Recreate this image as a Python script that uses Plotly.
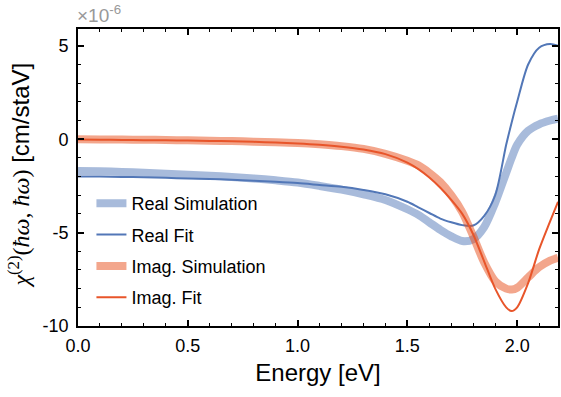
import plotly.graph_objects as go

# Photon energy grid (eV)
energy = [0.0, 0.1, 0.2, 0.3, 0.4, 0.5, 0.6, 0.7, 0.8, 0.9, 1.0, 1.1, 1.2, 1.3,
          1.4, 1.5, 1.55, 1.6, 1.65, 1.7, 1.75, 1.8, 1.85, 1.9, 1.95, 1.975, 2.0,
          2.05, 2.1, 2.15, 2.186]

# chi^(2) in units of 1e-6 cm/staV
real_sim = [-1.7, -1.72, -1.75, -1.8, -1.85, -1.9, -1.95, -2.02, -2.1, -2.2,
            -2.32, -2.5, -2.7, -2.95, -3.25, -3.75, -4.05, -4.45, -4.85, -5.2,
            -5.45, -5.35, -4.7, -3.4, -1.8, -1.0, -0.3, 0.45, 0.8, 1.0, 1.1]
real_fit = [-2.0, -2.0, -2.02, -2.04, -2.07, -2.1, -2.13, -2.17, -2.22, -2.28,
            -2.35, -2.45, -2.55, -2.72, -2.95, -3.35, -3.65, -3.95, -4.25, -4.45,
            -4.6, -4.62, -4.1, -3.0, -0.3, 0.9, 2.0, 4.0, 4.9, 5.1, 5.0]
imag_sim = [0.0, -0.01, -0.02, -0.03, -0.04, -0.06, -0.08, -0.1, -0.13, -0.16,
            -0.2, -0.27, -0.37, -0.52, -0.78, -1.15, -1.4, -1.8, -2.3, -3.0,
            -3.9, -5.2, -6.6, -7.6, -8.0, -8.05, -7.95, -7.4, -6.85, -6.5, -6.35]
imag_fit = [-0.02, -0.03, -0.04, -0.05, -0.06, -0.07, -0.09, -0.11, -0.14, -0.18,
            -0.23, -0.3, -0.4, -0.55, -0.8, -1.25, -1.6, -2.05, -2.6, -3.25,
            -4.0, -5.1, -6.55, -8.0, -9.0, -9.2, -9.0, -7.7, -5.9, -4.4, -3.35]

x_tickvals = [0.0, 0.5, 1.0, 1.5, 2.0]
x_ticktext = ["0.0", "0.5", "1.0", "1.5", "2.0"]
y_tickvals = [5, 0, -5, -10]
y_ticktext = ["5", "0", "-5", "-10"]

BLUE = "rgb(82,119,183)"
BLUE_SOFT = "rgba(82,119,183,0.5)"
ORANGE = "rgb(232,85,42)"
ORANGE_SOFT = "rgba(231,77,25,0.5)"
SANS = "Liberation Sans, Arial, Helvetica, sans-serif"
SERIF = "Liberation Serif, Times New Roman, serif"

series = [
    ("Real Simulation", real_sim, BLUE_SOFT, 8),
    ("Real Fit", real_fit, BLUE, 2),
    ("Imag. Simulation", imag_sim, ORANGE_SOFT, 8),
    ("Imag. Fit", imag_fit, ORANGE, 2),
]

fig = go.Figure()
for i, (name, vals, color, width) in enumerate(series):
    fig.add_trace(go.Scatter(
        x=energy, y=vals, name=name, mode="lines", legendgroup=f"g{i}",
        line=dict(color=color, width=width, shape="spline", smoothing=0.8),
    ))

axis_common = dict(
    showline=True, linecolor="black", linewidth=1.8, mirror="allticks",
    ticks="inside", ticklen=6, tickwidth=1.5, tickcolor="black",
    showgrid=False, zeroline=False,
    tickfont=dict(family=SANS, size=18, color="black"),
)

fig.update_layout(
    width=561, height=397,
    margin=dict(l=78, r=1, t=29, b=71),
    paper_bgcolor="white", plot_bgcolor="white",
    font=dict(family=SANS, color="black"),
    xaxis=dict(
        range=[0, 2.186], tickmode="array", tickvals=x_tickvals, ticktext=x_ticktext,
        minor=dict(dtick=0.1, tick0=0, ticks="inside", ticklen=3.5, tickwidth=1.2,
                   tickcolor="black", showgrid=False),
        ticklabelstandoff=2,
        title=dict(text="Energy [eV]", font=dict(family=SANS, size=24), standoff=10),
        **axis_common,
    ),
    yaxis=dict(
        range=[-10, 5.9], tickmode="array", tickvals=y_tickvals, ticktext=y_ticktext,
        minor=dict(dtick=1, tick0=0, ticks="inside", ticklen=3.5, tickwidth=1.2,
                   tickcolor="black", showgrid=False),
        ticklabelstandoff=4,
        **axis_common,
    ),
    legend=dict(
        x=0.028, y=0.475, xanchor="left", yanchor="top",
        bgcolor="rgba(0,0,0,0)", borderwidth=0,
        font=dict(family=SANS, size=18, color="black"),
        traceorder="grouped", tracegroupgap=5,
    ),
    showlegend=True,
)

# y-axis label with math-style symbol
ylabel = (f"<span style='font-family:{SERIF}'><i>χ</i><sup>(2)</sup>(<i>ħω</i>, <i>ħω</i>)</span>"
          " [cm/staV]")
fig.add_annotation(
    text=ylabel, textangle=-90, xref="paper", yref="paper",
    x=-0.122, y=0.508, xanchor="center", yanchor="middle", showarrow=False,
    font=dict(family=SANS, size=24, color="black"),
)

# exponent marker above the axis
fig.add_annotation(
    text="×10<sup>-6</sup>", xref="paper", yref="paper", x=0, y=1,
    xanchor="left", yanchor="bottom", yshift=1, xshift=-3, showarrow=False,
    font=dict(family=SANS, size=19, color="#999999"),
)

fig.write_html("out.html")
